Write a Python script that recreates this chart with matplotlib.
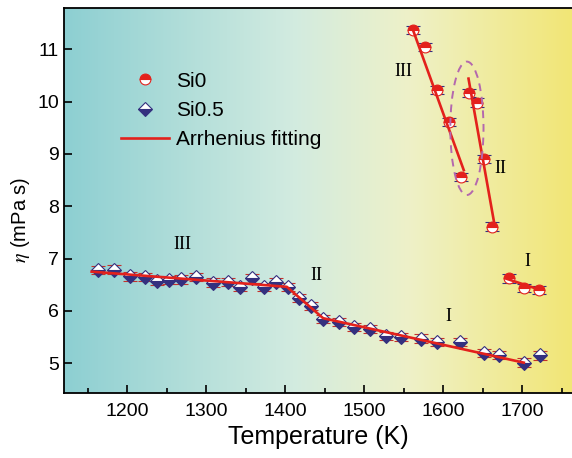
import matplotlib
matplotlib.use("Agg")
import matplotlib.pyplot as plt
import numpy as np
from matplotlib.colors import LinearSegmentedColormap
from matplotlib.patches import Ellipse
from matplotlib.ticker import MultipleLocator

plt.rcParams["font.family"] = ["Liberation Sans", "DejaVu Sans"]
plt.rcParams["mathtext.fontset"] = "stix"

# Si0 melt: three Arrhenius regimes (III, II, I)
si0_T = [1562, 1577, 1592, 1607, 1622, 1632, 1643, 1652, 1662, 1683, 1702, 1721]
si0_eta = [11.37, 11.05, 10.22, 9.61, 8.56, 10.16, 9.98, 8.90, 7.61, 6.62, 6.44, 6.40]
si0_err = [0.08, 0.08, 0.08, 0.08, 0.08, 0.08, 0.08, 0.08, 0.08, 0.08, 0.08, 0.08]

# Si0.5 melt
si05_T = [1163, 1183, 1203, 1223, 1238, 1253, 1268, 1287, 1308, 1328,
          1343, 1358, 1373, 1388, 1403, 1418, 1433, 1448, 1468, 1487,
          1507, 1527, 1547, 1572, 1592, 1621, 1651, 1671, 1702, 1722]
si05_eta = [6.78, 6.79, 6.66, 6.65, 6.57, 6.59, 6.60, 6.65, 6.54, 6.55,
            6.46, 6.62, 6.46, 6.55, 6.46, 6.25, 6.09, 5.85, 5.79, 5.69,
            5.65, 5.52, 5.50, 5.47, 5.40, 5.40, 5.19, 5.16, 5.01, 5.15]
si05_err = [0.08, 0.08, 0.08, 0.08, 0.08, 0.08, 0.08, 0.08, 0.08, 0.08,
            0.08, 0.08, 0.08, 0.08, 0.08, 0.08, 0.08, 0.08, 0.08, 0.08,
            0.08, 0.08, 0.08, 0.08, 0.08, 0.08, 0.08, 0.08, 0.08, 0.08]

# Arrhenius fits, one segment per regime
si0_fit_III_T, si0_fit_III_eta = [1561, 1626], [11.40, 8.69]
si0_fit_II_T, si0_fit_II_eta = [1632, 1665], [10.44, 7.64]
si0_fit_I_T, si0_fit_I_eta = [1679, 1721], [6.62, 6.41]
si05_fit_T = [1155, 1402, 1448, 1702]
si05_fit_eta = [6.75, 6.46, 5.86, 5.01]

# regime labels: (text, T, eta)
regime_labels = [("III", 1270, 7.26), ("II", 1440, 6.68), ("I", 1606, 5.90),
                 ("III", 1550, 10.58), ("II", 1672, 8.73), ("I", 1706, 6.94)]

RED = "#e3211c"
NAVY = "#34307f"
CAP_RED = "#c4312a"

fig = plt.figure(figsize=(5.72, 4.58), dpi=100)
ax = fig.add_axes([64 / 572, 1 - 393 / 458, 508 / 572, 385 / 458])

bg = LinearSegmentedColormap.from_list(
    "bg", [(0.0, "#8dcfd2"), (0.45, "#d2ebe0"), (0.68, "#eef1c8"), (1.0, "#f2e676")])
ax.imshow(np.linspace(0, 1, 256)[None, :], cmap=bg, aspect="auto",
          extent=[0, 1, 0, 1], transform=ax.transAxes, zorder=0)

# Si0.5: diamonds, white top / navy bottom, red caps
ax.errorbar(si05_T, si05_eta, yerr=si05_err, fmt="D", ms=7.0,
            fillstyle="bottom", mfc=NAVY, mfcalt="white", mec=NAVY, mew=0.8,
            ecolor=CAP_RED, elinewidth=1.0, capsize=5, capthick=1.4, zorder=3)
# Si0: circles, red top / white bottom, navy caps
ax.errorbar(si0_T, si0_eta, yerr=si0_err, fmt="o", ms=7.8,
            fillstyle="top", mfc=RED, mfcalt="white", mec=RED, mew=0.8,
            ecolor=NAVY, elinewidth=1.0, capsize=5, capthick=1.4, zorder=3)

ax.plot(si05_fit_T, si05_fit_eta, color=RED, lw=1.9, zorder=4)
for ft, fe in [(si0_fit_III_T, si0_fit_III_eta), (si0_fit_II_T, si0_fit_II_eta),
               (si0_fit_I_T, si0_fit_I_eta)]:
    ax.plot(ft, fe, color=RED, lw=1.9, zorder=4)

ax.add_patch(Ellipse((1630, 9.49), 42, 2.55, fill=False, ec="#b468ae",
                     lw=1.4, ls=(0, (4, 3)), zorder=5))

for txt, t, e in regime_labels:
    ax.text(t, e, txt, ha="center", va="center", fontsize=13,
            family=["Liberation Serif", "DejaVu Serif"], zorder=6)

# legend handles
h_si0 = ax.errorbar([], [], fmt="o", ms=7.8, fillstyle="top", mfc=RED,
                    mfcalt="white", mec=RED, mew=0.8)
h_si05 = ax.errorbar([], [], fmt="D", ms=7.0, fillstyle="bottom", mfc=NAVY,
                     mfcalt="white", mec=NAVY, mew=0.8)
h_fit, = ax.plot([], [], color=RED, lw=1.9)
ax.legend([h_si0, h_si05, h_fit], ["Si0", "Si0.5", "Arrhenius fitting"],
          loc="upper left", bbox_to_anchor=(0.092, 0.862), frameon=False,
          fontsize=15, handlelength=2.3, handletextpad=0.35,
          labelspacing=0.5, borderpad=0)

ax.set_xlim(1120, 1763)
ax.set_ylim(4.43, 11.79)
ax.xaxis.set_major_locator(MultipleLocator(100))
ax.xaxis.set_minor_locator(MultipleLocator(50))
ax.yaxis.set_major_locator(MultipleLocator(1))
ax.tick_params(which="both", direction="in", labelsize=14, colors="black")
ax.tick_params(which="major", length=6, width=1.2)
ax.tick_params(which="minor", length=3.5, width=1.2)
ax.tick_params(axis="x", pad=7)
for side in ("left", "bottom", "top"):
    ax.spines[side].set_linewidth(1.3)
ax.spines["right"].set_visible(False)

ax.set_xlabel("Temperature (K)", fontsize=18, labelpad=4)
ax.set_ylabel(r"$\eta$ (mPa s)", fontsize=14.5)
ax.yaxis.set_label_coords(-0.063, 0.45)

fig.savefig("out.png", dpi=100, facecolor="white")
